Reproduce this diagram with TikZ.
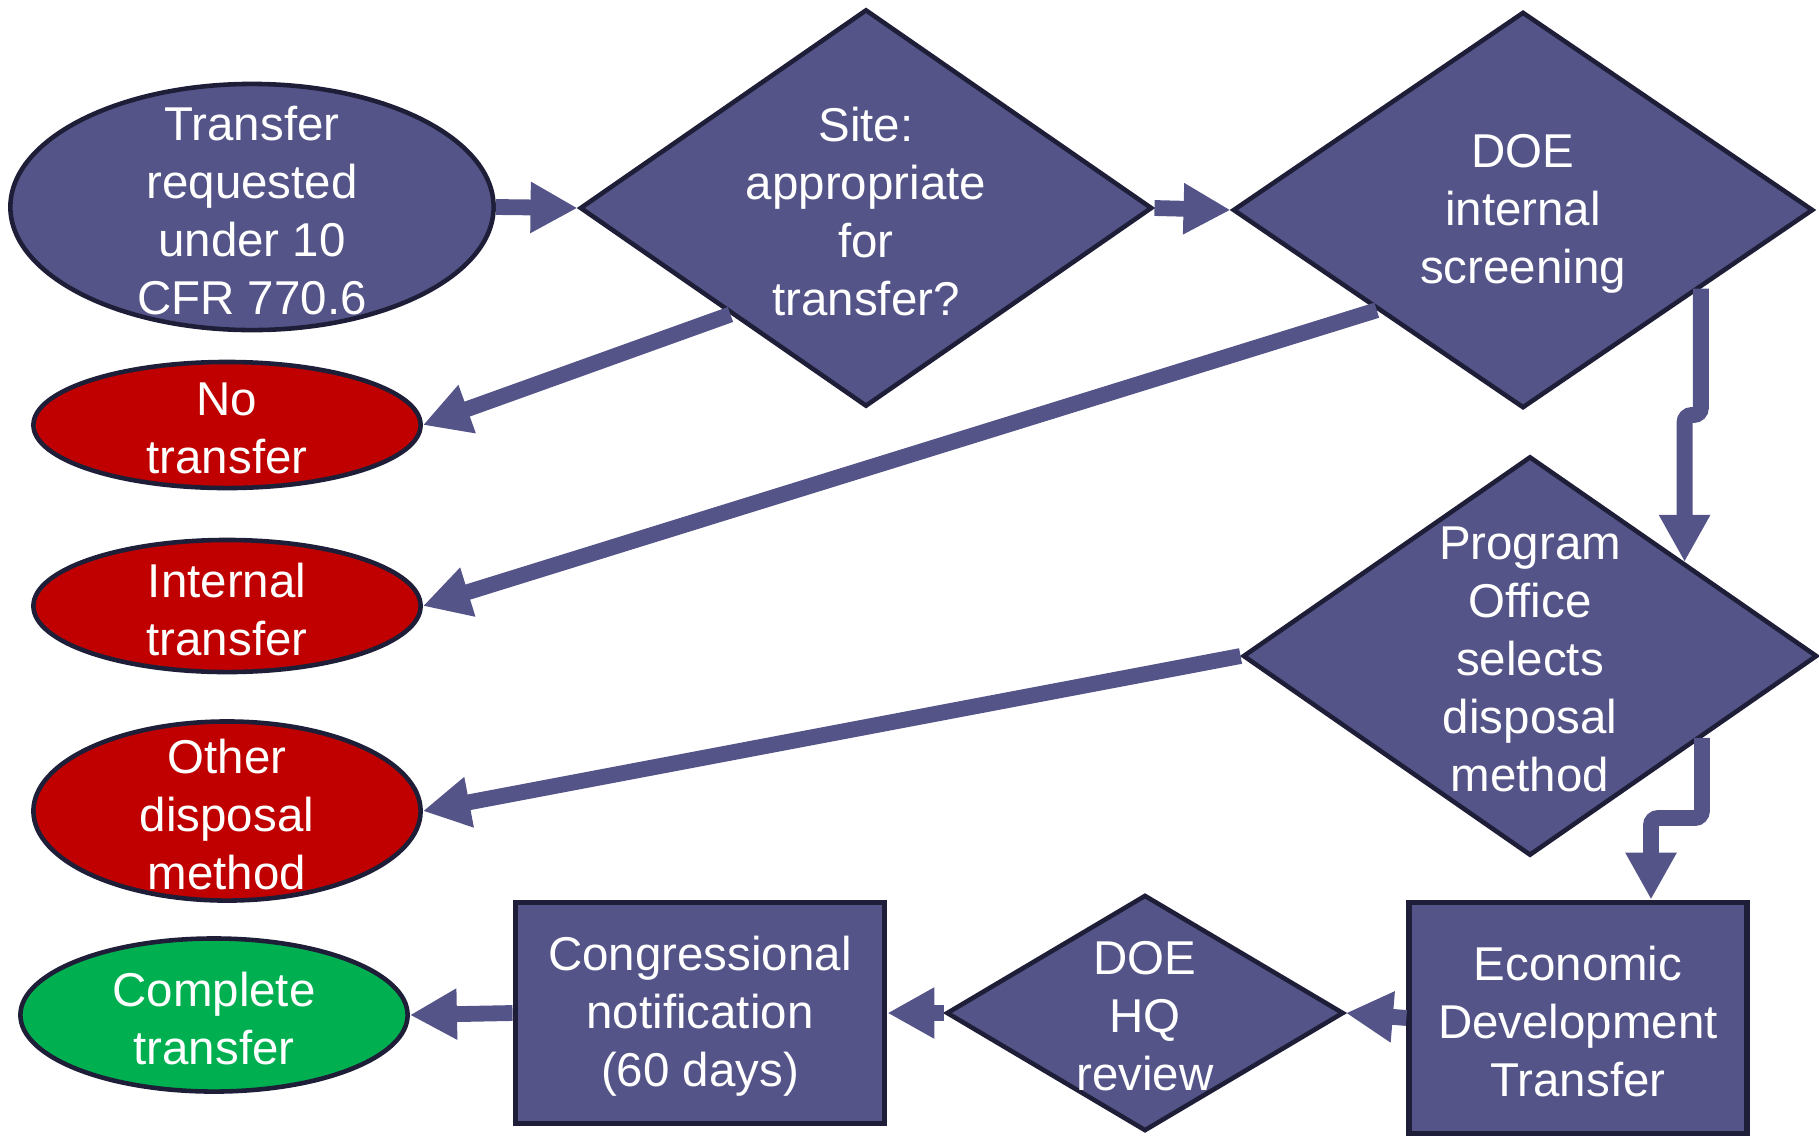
\documentclass[tikz,border=0pt]{standalone}
\usepackage{fontspec}
\setmainfont{Liberation Sans}
\usepackage{tikz}
\usetikzlibrary{shapes,arrows.meta,calc,positioning}
\definecolor{boxfill}{RGB}{84,84,136}
\definecolor{boxline}{RGB}{30,30,56}
\definecolor{stopred}{RGB}{192,0,0}
\definecolor{donegreen}{RGB}{0,176,80}
\newcommand{\lblsize}{\fontsize{13.5}{16.5}\selectfont}

\begin{document}
\begin{tikzpicture}
[->, >={Triangle[length=4.7mm,width=4.8mm]}, x=0.01cm, y=-0.01cm,
every label/.style={text=white, align=center, font=\lblsize, yshift=-1pt},
oval/.style={ellipse, draw=boxline, line width=1.3pt, inner sep=0pt},
dec/.style={diamond, draw=boxline, fill=boxfill, line width=1.3pt, inner sep=0pt},
box/.style={rectangle, draw=boxline, fill=boxfill, line width=1.6pt, inner sep=0pt},
flow/.style={line width=4.5pt, draw=boxfill, rounded corners=2pt}]
\useasboundingbox (0,0) rectangle (1819,1136);

\node (req) at (252,207) [oval, fill=boxfill, minimum width=4.83cm, minimum height=2.46cm, label={center:Transfer\\requested\\under 10\\CFR 770.6}] {};
\node (site) at (866,208) [dec, minimum width=5.72cm, minimum height=3.97cm, label={center:Site:\\appropriate\\for\\transfer?}] {};
\node (doe) at (1523,210) [dec, minimum width=5.80cm, minimum height=3.96cm, label={center:DOE\\internal\\screening}] {};
\node (prog) at (1530,656) [dec, minimum width=5.74cm, minimum height=3.99cm, label={center:Program\\Office\\selects\\disposal\\method}] {};
\node (no) at (227,425) [oval, fill=stopred, minimum width=3.87cm, minimum height=1.26cm, label={center:No\\transfer}] {};
\node (int) at (227,606) [oval, fill=stopred, minimum width=3.87cm, minimum height=1.32cm, label={center:Internal\\transfer}] {};
\node (other) at (227,811) [oval, fill=stopred, minimum width=3.87cm, minimum height=1.79cm, label={center:Other\\disposal\\method}] {};
\node (done) at (214,1015) [oval, fill=donegreen, minimum width=3.87cm, minimum height=1.53cm, label={center:Complete\\transfer}] {};
\node (eco) at (1578,1018) [box, minimum width=3.375cm, minimum height=2.31cm, label={center:Economic\\Development\\Transfer}] {};
\node (hq) at (1145,1013) [dec, minimum width=3.97cm, minimum height=2.36cm, label={center:DOE\\HQ\\review}] {};
\node (cong) at (700,1013) [box, minimum width=3.69cm, minimum height=2.21cm, label={center:Congressional\\notification\\(60 days)}] {};

% points on the diamond sides
\coordinate (s3) at ($(site.west)!0.53!(site.south)$);
\coordinate (s4) at ($(doe.west)!0.5!(doe.south)$);
\coordinate (s5) at ($(doe.east)!0.392!(doe.south)$);
\coordinate (e5) at ($(prog.north)!0.534!(prog.east)$);
\coordinate (j5) at (0,415);
\coordinate (s7) at ($(prog.east)!0.406!(prog.south)$);
\coordinate (j7) at (0,818);
\coordinate (x7) at (1651,0);
\coordinate (e7) at (eco.north -| x7);

\draw[flow] (req.east) -- (site.west);
\draw[flow] (site.east) -- (doe.west);
\draw[flow] (s3) -- (no.east);
\draw[flow] (s4) -- (int.east);
\draw[flow] (s5) -- (s5 |- j5) -| (e5);
\draw[flow] (prog.west) -- (other.east);
\draw[flow] (s7) -- (s7 |- j7) -| (e7);
\draw[flow] (eco.west) -- (hq.east);
\draw[flow] (hq.west) -- (cong.east);
\draw[flow] (cong.west) -- (done.east);

\end{tikzpicture}
\end{document}
